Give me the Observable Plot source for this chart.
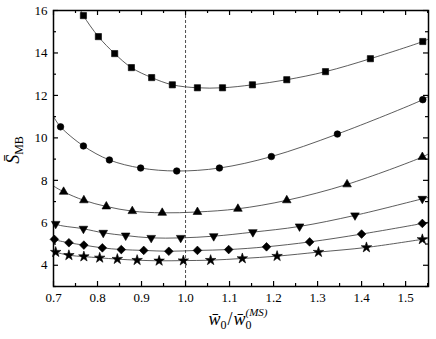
<!DOCTYPE html>
<html><head><meta charset="utf-8">
<script src="https://cdn.jsdelivr.net/npm/d3@7"></script>
<script src="https://cdn.jsdelivr.net/npm/@observablehq/plot@0.6"></script>
<style>body{margin:0;background:#fff}</style>
</head><body><div id="chart"></div>
<script>
// ---- data ----
const squareX = [0.768,0.802,0.839,0.877,0.923,0.970,1.027,1.084,1.152,1.230,1.318,1.420,1.539];
const squareY = [15.76,14.77,13.97,13.31,12.84,12.50,12.36,12.36,12.50,12.74,13.12,13.73,14.54];
const circleX = [0.716,0.768,0.827,0.898,0.980,1.077,1.195,1.345,1.539];
const circleY = [10.52,9.62,8.96,8.58,8.44,8.58,9.12,10.18,11.80];
const triUpX = [0.723,0.769,0.820,0.879,0.947,1.027,1.119,1.230,1.367,1.538];
const triUpY = [7.46,7.06,6.77,6.55,6.47,6.51,6.66,7.06,7.81,9.10];
const triDownX = [0.705,0.768,0.813,0.864,0.922,0.989,1.064,1.153,1.259,1.385,1.538];
const triDownY = [5.95,5.72,5.53,5.40,5.29,5.29,5.37,5.56,5.83,6.35,7.13];
const diamondX = [0.702,0.735,0.769,0.811,0.854,0.905,0.962,1.027,1.098,1.184,1.282,1.400,1.538];
const diamondY = [5.22,5.06,4.95,4.82,4.74,4.70,4.66,4.70,4.74,4.87,5.10,5.47,5.97];
const starX = [0.705,0.735,0.769,0.805,0.845,0.890,0.940,0.995,1.057,1.129,1.208,1.302,1.411,1.538];
const starY = [4.62,4.47,4.41,4.35,4.29,4.24,4.21,4.22,4.24,4.32,4.43,4.62,4.84,5.22];
// where each fitted curve meets the frame edges
const curveStartX = [0.755,0.7,0.7,0.7,0.7,0.7];
const curveStartY = [16.3,11.0,7.73,6.11,5.27,4.65];
const curveEndX = [1.552,1.552,1.552,1.552,1.552,1.552];
const curveEndY = [14.66,11.95,9.25,7.2,6.03,5.26];
const seriesNames = ["square","circle","triUp","triDown","diamond","star"];
const seriesSymbols = ["square","circle","triangle","triangle","diamond2","star"];
const seriesRotate = [0,0,0,180,0,0];
const markerR = [3.5,3.3,3.2,3.2,3.9,3.3];
const xTicksMajor = [0.7,0.8,0.9,1.0,1.1,1.2,1.3,1.4,1.5];
const xTicksMinor = [0.75,0.85,0.95,1.05,1.15,1.25,1.35,1.45,1.55];
const yTicksMajor = [4,6,8,10,12,14,16];
const yTicksMinor = [3,5,7,9,11,13,15];
const xDomain = [0.7,1.552];
const yDomain = [3,16];
const refLineX = [1.0];

// ---- build tables ----
const xs = [squareX,circleX,triUpX,triDownX,diamondX,starX];
const ys = [squareY,circleY,triUpY,triDownY,diamondY,starY];
const points = [], curves = [];
xs.forEach((arr,i) => {
  arr.forEach((x,j) => points.push({s: seriesNames[i], x, y: ys[i][j]}));
  curves.push({s: seriesNames[i], x: curveStartX[i], y: curveStartY[i]});
  arr.forEach((x,j) => curves.push({s: seriesNames[i], x, y: ys[i][j]}));
  curves.push({s: seriesNames[i], x: curveEndX[i], y: curveEndY[i]});
});

const W = 436, H = 339, mL = 53, mR = 8, mT = 10, mB = 53;
const fw = W - mL - mR, fh = H - mT - mB;
const major = 5, minor = 3;
const FONT = "'Times New Roman', 'Liberation Serif', Times, serif";

const svg = Plot.plot({
  width: W, height: H,
  marginLeft: mL, marginRight: mR, marginTop: mT, marginBottom: mB,
  x: {domain: xDomain, axis: null},
  y: {domain: yDomain, axis: null},
  style: {fontFamily: FONT, fontSize: "13px", color: "black", background: "white"},
  marks: [
    Plot.ruleX(refLineX, {stroke: "#222", strokeWidth: 0.8, strokeDasharray: "3,2"}),
    Plot.line(curves, {x: "x", y: "y", z: "s", curve: "catmull-rom", stroke: "#333", strokeWidth: 0.8, clip: true}),
    ...seriesNames.map((n,i) => Plot.dot(points.filter(d => d.s === n), {x: "x", y: "y", symbol: seriesSymbols[i], rotate: seriesRotate[i], r: markerR[i], fill: "black", stroke: "black", strokeWidth: 0.6})),
    // inward ticks on all four sides
    Plot.tickX(xTicksMajor, {x: d => d, insetTop: fh - major, stroke: "black", strokeWidth: 1.2}),
    Plot.tickX(xTicksMinor, {x: d => d, insetTop: fh - minor, stroke: "black", strokeWidth: 1.2}),
    Plot.tickX(xTicksMajor, {x: d => d, insetBottom: fh - major, stroke: "black", strokeWidth: 1.2}),
    Plot.tickX(xTicksMinor, {x: d => d, insetBottom: fh - minor, stroke: "black", strokeWidth: 1.2}),
    Plot.tickY(yTicksMajor, {y: d => d, insetRight: fw - major, stroke: "black", strokeWidth: 1.2}),
    Plot.tickY(yTicksMinor, {y: d => d, insetRight: fw - minor, stroke: "black", strokeWidth: 1.2}),
    Plot.tickY(yTicksMajor, {y: d => d, insetLeft: fw - major, stroke: "black", strokeWidth: 1.2}),
    Plot.tickY(yTicksMinor, {y: d => d, insetLeft: fw - minor, stroke: "black", strokeWidth: 1.2}),
    Plot.axisX({ticks: xTicksMajor, tickSize: 0, tickPadding: 6, tickFormat: d3.format(".1f"), label: null, fontSize: 13}),
    Plot.axisY({ticks: yTicksMajor, tickSize: 0, tickPadding: 6, tickFormat: d => String(d), label: null, fontSize: 13}),
    Plot.frame({stroke: "black", strokeWidth: 1.5})
  ]
});

// axis titles with overbars, subscripts and superscripts
const sel = d3.select(svg);
const yl = sel.append("text")
  .attr("transform", "translate(19,150) rotate(-90)")
  .attr("text-anchor", "middle")
  .attr("font-family", FONT)
  .attr("font-size", 18).attr("fill", "black");
yl.append("tspan").attr("font-style", "italic").text("S\u0304");
yl.append("tspan").attr("font-size", 12).attr("dy", 4).text("MB");

const xl = sel.append("text")
  .attr("x", 238).attr("y", 325)
  .attr("text-anchor", "middle")
  .attr("font-family", FONT)
  .attr("font-size", 18).attr("fill", "black");
xl.append("tspan").attr("font-style", "italic").text("w\u0304");
xl.append("tspan").attr("font-size", 12).attr("dy", 4).text("0");
xl.append("tspan").attr("dy", -4).attr("dx", 1).text("/");
xl.append("tspan").attr("font-style", "italic").attr("dx", 1).text("w\u0304");
xl.append("tspan").attr("font-size", 12).attr("dy", 4).text("0");
xl.append("tspan").attr("font-size", 11).attr("font-style", "italic").attr("dx", -6).attr("dy", -13).text("(MS)");

document.getElementById("chart").appendChild(svg);
</script>
</body></html>
